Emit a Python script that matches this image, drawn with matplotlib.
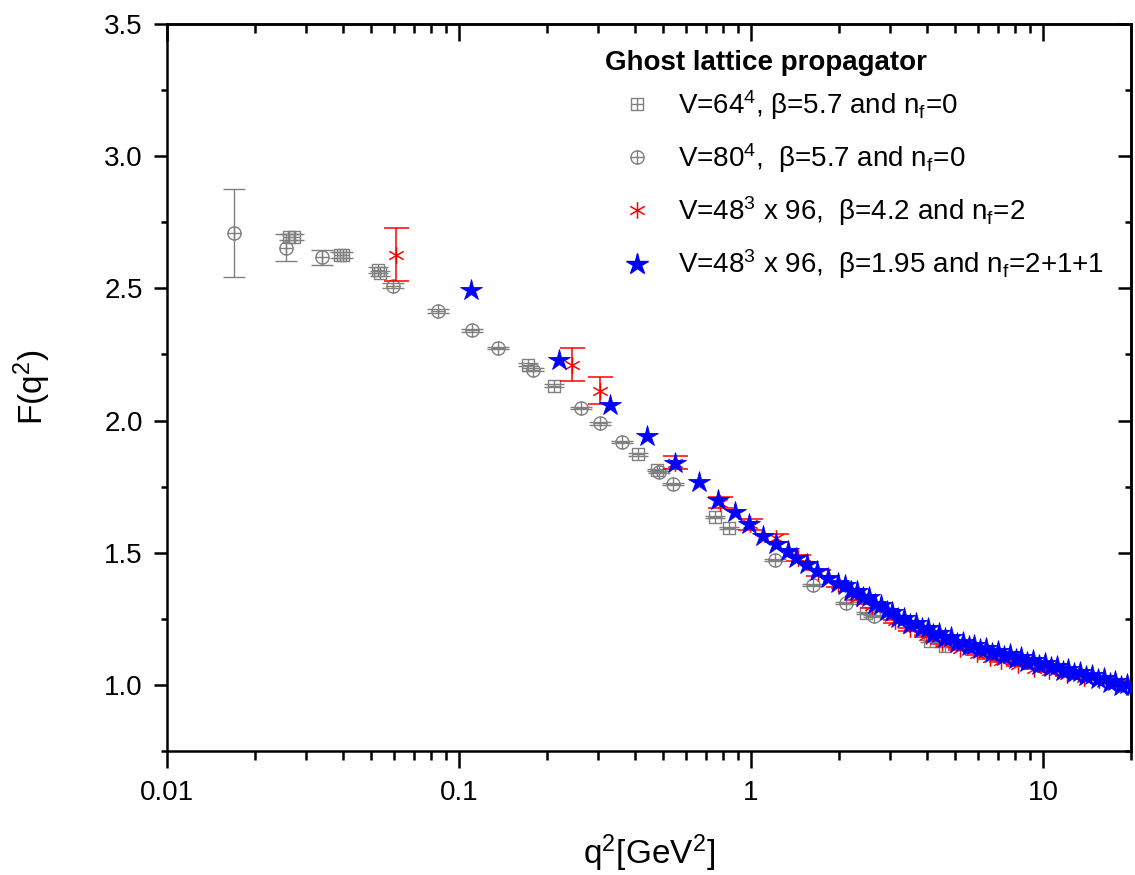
import numpy as np
import matplotlib
matplotlib.use('Agg')
import matplotlib.pyplot as plt
from matplotlib.path import Path
from matplotlib.lines import Line2D
from matplotlib.ticker import MultipleLocator, NullFormatter, LogLocator, FormatStrFormatter

plt.rcParams['font.family'] = ['Liberation Sans', 'DejaVu Sans']
plt.rcParams['mathtext.fontset'] = 'custom'
plt.rcParams['mathtext.rm'] = 'Liberation Sans'
plt.rcParams['mathtext.it'] = 'Liberation Sans'

# V=64^4, beta=5.7, nf=0
x64 = [0.0262, 0.0272, 0.0392, 0.0402, 0.0528, 0.0535, 0.1717, 0.212, 0.409, 0.475,
       0.750, 0.841, 2.48, 4.10, 4.60]
y64 = [2.694, 2.694, 2.626, 2.626, 2.570, 2.557, 2.211, 2.132, 1.872, 1.813,
       1.635, 1.592, 1.271, 1.166, 1.147]
e64 = [0.010, 0.010, 0.010, 0.010, 0.010, 0.010, 0.006, 0.005, 0.005, 0.005,
       0.004, 0.004, 0.003, 0.003, 0.003]

# V=80^4, beta=5.7, nf=0
x80 = [0.0169, 0.0255, 0.0340, 0.0594, 0.0847, 0.1104, 0.1356, 0.1787, 0.2618, 0.3048,
       0.3615, 0.483, 0.5408, 1.205, 1.632, 2.106, 2.64]
y80 = [2.709, 2.654, 2.617, 2.510, 2.415, 2.341, 2.274, 2.193, 2.048, 1.989,
       1.918, 1.806, 1.761, 1.472, 1.377, 1.309, 1.261]
e80 = [0.166, 0.050, 0.029, 0.010, 0.008, 0.006, 0.005, 0.005, 0.004, 0.004,
       0.004, 0.004, 0.004, 0.003, 0.003, 0.003, 0.003]

# V=48^3x96, beta=4.2, nf=2
x42 = [0.0607, 0.2437, 0.3048, 0.547, 0.780, 0.989, 1.22, 1.45, 1.70, 1.98,
       2.30, 2.60, 3.10, 3.50, 3.97, 4.50, 5.20, 5.96, 6.60, 7.20,
       8.20, 9.30, 10.5, 12.1, 13.8, 15.5, 17.6, 19.5]
y42 = [2.627, 2.211, 2.113, 1.840, 1.689, 1.607, 1.557, 1.480, 1.423, 1.380,
       1.328, 1.298, 1.240, 1.211, 1.185, 1.160, 1.136, 1.116, 1.103, 1.092,
       1.076, 1.062, 1.052, 1.036, 1.027, 1.020, 1.012, 0.995]
e42 = [0.100, 0.062, 0.052, 0.024, 0.020, 0.020, 0.015, 0.012, 0.010, 0.010,
       0.008, 0.008, 0.006, 0.006, 0.005, 0.005, 0.004, 0.004, 0.004, 0.004,
       0.003, 0.003, 0.003, 0.003, 0.003, 0.003, 0.003, 0.003]

# V=48^3x96, beta=1.95, nf=2+1+1
x195 = [0.110, 0.2204, 0.330, 0.4406, 0.5495, 0.661, 0.771, 0.879, 0.985, 1.099,
        1.22, 1.34, 1.43, 1.56, 1.68, 1.83, 1.98, 2.10, 2.20, 2.31,
        2.42, 2.53, 2.65, 2.78, 2.91, 3.05, 3.19, 3.34, 3.50, 3.67,
        3.84, 4.02, 4.21, 4.41, 4.62, 4.84, 5.07, 5.31, 5.56, 5.82,
        6.10, 6.39, 6.69, 7.01, 7.34, 7.69, 8.05, 8.43, 8.83, 9.25,
        9.69, 10.15, 10.63, 11.13, 11.66, 12.21, 12.79, 13.40, 14.03, 14.70,
        15.39, 16.12, 16.89, 17.69, 18.53, 19.40, 20.3]
y195 = [2.492, 2.230, 2.060, 1.943, 1.838, 1.768, 1.698, 1.654, 1.607, 1.565,
        1.534, 1.506, 1.481, 1.456, 1.431, 1.406, 1.387, 1.378, 1.356, 1.356,
        1.332, 1.333, 1.306, 1.303, 1.278, 1.276, 1.252, 1.253, 1.232, 1.236,
        1.214, 1.216, 1.194, 1.196, 1.176, 1.181, 1.160, 1.164, 1.146, 1.152,
        1.134, 1.140, 1.122, 1.128, 1.110, 1.116, 1.099, 1.105, 1.087, 1.093,
        1.076, 1.083, 1.067, 1.072, 1.054, 1.061, 1.044, 1.050, 1.033, 1.039,
        1.021, 1.026, 1.008, 1.014, 0.997, 1.004, 0.994]

gray = '#808080'

# open square / circle with a cross inside, 6-spoke asterisk
sq_plus = Path.make_compound_path(
    Path([(-1, -1), (1, -1), (1, 1), (-1, 1), (-1, -1)],
         [Path.MOVETO, Path.LINETO, Path.LINETO, Path.LINETO, Path.CLOSEPOLY]),
    Path([(0, -1), (0, 1)], [Path.MOVETO, Path.LINETO]),
    Path([(-1, 0), (1, 0)], [Path.MOVETO, Path.LINETO]))
circ_plus = Path.make_compound_path(
    Path.unit_circle(),
    Path([(0, -1), (0, 1)], [Path.MOVETO, Path.LINETO]),
    Path([(-1, 0), (1, 0)], [Path.MOVETO, Path.LINETO]))
c30, s30 = np.cos(np.pi / 6), np.sin(np.pi / 6)
aster = Path([(0, -1), (0, 1), (-c30, -s30), (c30, s30), (-c30, s30), (c30, -s30)],
             [Path.MOVETO, Path.LINETO] * 3)

fig = plt.figure(figsize=(11.35, 8.75), dpi=100)
ax = fig.add_axes([167 / 1135, 1 - 751 / 875, (1131 - 167) / 1135, (751 - 24) / 875])

ax.errorbar(x64, y64, yerr=e64, marker=sq_plus, ls='none', mfc='none', mec=gray, mew=1.0,
            ms=9, ecolor=gray, elinewidth=1.0, capsize=7, capthick=1.0, zorder=2)
ax.errorbar(x80, y80, yerr=e80, marker=circ_plus, ls='none', mfc='none', mec=gray, mew=1.0,
            ms=9.5, ecolor=gray, elinewidth=1.0, capsize=8, capthick=1.0, zorder=2)
ax.errorbar(x42, y42, yerr=e42, marker=aster, ls='none', mfc='none', mec='red', mew=1.1,
            ms=12, ecolor='red', elinewidth=1.1, capsize=9, capthick=1.1, zorder=3)
ax.plot(x195, y195, marker='*', ls='none', color='blue', mec='blue', ms=16, mew=0.6, zorder=4)

ax.set_xscale('log')
ax.set_xlim(0.01, 20)
ax.set_ylim(0.75, 3.5)
ax.set_xticks([0.01, 0.1, 1, 10], ['0.01', '0.1', '1', '10'])
ax.xaxis.set_minor_locator(LogLocator(base=10, subs=np.arange(2, 10)))
ax.xaxis.set_minor_formatter(NullFormatter())
ax.yaxis.set_major_locator(MultipleLocator(0.5))
ax.yaxis.set_minor_locator(MultipleLocator(0.25))
ax.yaxis.set_major_formatter(FormatStrFormatter('%.1f'))

for s in ax.spines.values():
    s.set_linewidth(1.8)
ax.tick_params(axis='x', which='major', direction='out', length=12, width=1.8, labelsize=20, pad=9)
ax.tick_params(axis='x', which='minor', direction='out', length=6.5, width=1.8)
ax.tick_params(axis='y', which='major', direction='out', length=9.5, width=1.8, labelsize=20, pad=8)
ax.tick_params(axis='y', which='minor', direction='out', length=4.5, width=1.8)

top = ax.secondary_xaxis('top')
top.tick_params(axis='x', which='major', direction='in', length=12, width=1.8, labeltop=False)
top.tick_params(axis='x', which='minor', direction='in', length=6.5, width=1.8)
top.xaxis.set_minor_formatter(NullFormatter())
top.spines['top'].set_linewidth(1.8)
right = ax.secondary_yaxis('right')
right.yaxis.set_major_locator(MultipleLocator(0.5))
right.yaxis.set_minor_locator(MultipleLocator(0.25))
right.tick_params(axis='y', which='major', direction='in', length=9.5, width=1.8, labelright=False)
right.tick_params(axis='y', which='minor', direction='in', length=4.5, width=1.8)
right.spines['right'].set_linewidth(1.8)

ax.set_xlabel(r'q$^2$[GeV$^2$]', fontsize=24)
ax.set_ylabel(r'F(q$^2$)', fontsize=24)
ax.xaxis.set_label_coords(0.5, -0.112)
ax.yaxis.set_label_coords(-0.118, 0.5)

fig.text(605 / 1135, 1 - 63 / 875, 'Ghost lattice propagator', fontsize=20,
         fontweight='bold', ha='left', va='center')

handles = [
    Line2D([], [], marker=sq_plus, ls='none', mfc='none', mec=gray, mew=1.0, ms=9),
    Line2D([], [], marker=circ_plus, ls='none', mfc='none', mec=gray, mew=1.0, ms=9.5),
    Line2D([], [], marker=aster, ls='none', mfc='none', mec='red', mew=1.1, ms=12),
    Line2D([], [], marker='*', ls='none', color='blue', ms=16),
]
labels = [
    r'V=64$^4$, β=5.7 and n$_f$=0',
    r'V=80$^4$,  β=5.7 and n$_f$=0',
    r'V=48$^3$ x 96,  β=4.2 and n$_f$=2',
    r'V=48$^3$ x 96,  β=1.95 and n$_f$=2+1+1',
]
leg = ax.legend(handles, labels, frameon=False,
                loc='upper left', bbox_to_anchor=(593 / 1135, 1 - 74 / 875),
                bbox_transform=fig.transFigure, fontsize=20,
                borderpad=0, handlelength=2.2, handletextpad=0.35,
                labelspacing=0.7)

fig.savefig('out.png', dpi=100)
